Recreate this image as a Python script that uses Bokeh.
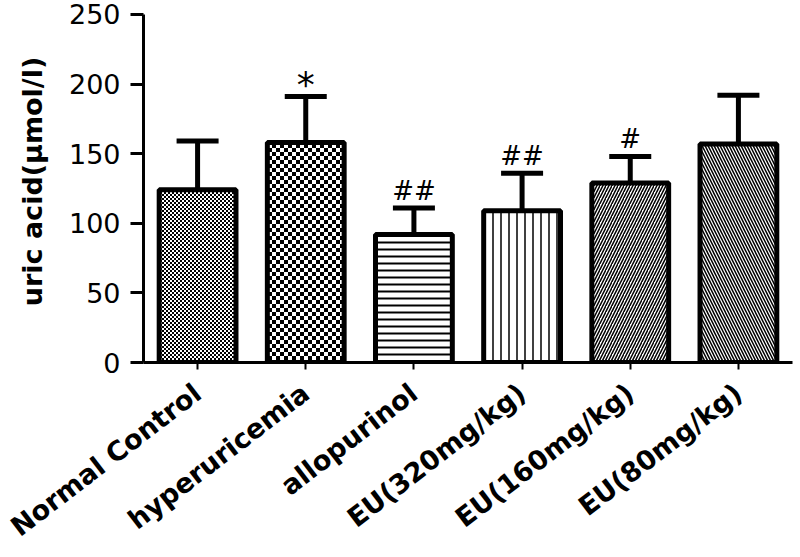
import zlib, struct, base64
from bokeh.plotting import figure
from bokeh.models import (ColumnDataSource, FactorRange, Range1d, FixedTicker,
                          Whisker, TeeHead, ImageURLTexture)
from bokeh.core.properties import value
from bokeh.embed import file_html
from bokeh.resources import INLINE

categories = ["Normal Control", "hyperuricemia", "allopurinol",
              "EU(320mg/kg)", "EU(160mg/kg)", "EU(80mg/kg)"]
means = [124, 158, 92, 109, 129, 157]
errors = [35, 33, 19, 27, 19, 35]
marks = ["", "*", "##", "##", "#", ""]
y_ticks = [0, 50, 100, 150, 200, 250]

# styles
patterns = ["fine_checker", "coarse_checker", "-", "|", "/", "\\"]
scales = [4, 9, 7, 8, 6, 6]
weights = [1, 1, 2, 1.5, 1.5, 1.5]
mark_size = {"": "26px", "*": "36px", "##": "26px", "#": "26px"}
mark_dy = {"": 0, "*": 8, "##": -2, "#": -2}


def checker_png(cell):
    n = cell * 2
    raw = b""
    for yy in range(n):
        row = bytearray([0])
        for xx in range(n):
            v = 0 if ((xx // cell) + (yy // cell)) % 2 == 0 else 255
            row += bytes([v, v, v])
        raw += bytes(row)

    def chunk(t, d):
        c = struct.pack(">I", len(d)) + t + d
        return c + struct.pack(">I", zlib.crc32(t + d) & 0xffffffff)

    png = (b"\x89PNG\r\n\x1a\n"
           + chunk(b"IHDR", struct.pack(">IIBBBBB", n, n, 8, 2, 0, 0, 0))
           + chunk(b"IDAT", zlib.compress(raw))
           + chunk(b"IEND", b""))
    return "data:image/png;base64," + base64.b64encode(png).decode()


def checker_svg(cell):
    n = cell * 2
    s = (f'<svg xmlns="http://www.w3.org/2000/svg" width="{n}" height="{n}">'
         f'<rect width="{n}" height="{n}" fill="white"/>'
         f'<rect width="{cell}" height="{cell}" fill="black"/>'
         f'<rect x="{cell}" y="{cell}" width="{cell}" height="{cell}" fill="black"/></svg>')
    return "data:image/svg+xml;base64," + base64.b64encode(s.encode()).decode()


upper = [m + e for m, e in zip(means, errors)]

src = ColumnDataSource(dict(cat=categories, top=means, upper=upper, mark=marks,
                            pat=patterns, sc=scales, wt=weights,
                            msize=[mark_size[m] for m in marks],
                            mdy=[mark_dy[m] for m in marks]))

extra = {"fine_checker": ImageURLTexture(url=checker_png(2)),
         "coarse_checker": ImageURLTexture(url=checker_svg(4))}

p = figure(x_range=FactorRange(*categories, range_padding=0),
           y_range=Range1d(0, 260),
           width=800, height=557, output_backend="svg", toolbar_location=None,
           min_border_left=143, min_border_right=8, min_border_top=0,
           min_border_bottom=193)
p.outline_line_color = None
p.xgrid.grid_line_color = None
p.ygrid.grid_line_color = None
p.background_fill_color = "white"
p.border_fill_color = "white"

p.vbar(x="cat", top="top", bottom=0, width=0.71, source=src,
       fill_color="white", line_color="black", line_width=5,
       hatch_pattern="pat", hatch_scale="sc", hatch_weight="wt",
       hatch_color="black", hatch_extra=extra)

w = Whisker(base="cat", upper="upper", lower="top", source=src,
            dimension="height", line_width=5, line_color="black",
            upper_head=TeeHead(size=42, line_width=5, line_color="black"),
            lower_head=None)
p.add_layout(w)

p.text(x="cat", y="upper", text="mark", source=src, text_align="center",
       text_baseline="bottom", y_offset="mdy", text_font=value("DejaVu Sans"),
       text_font_size="msize", text_color="black")

ya = p.yaxis[0]
ya.ticker = FixedTicker(ticks=y_ticks)
ya.bounds = (0, 250)
ya.axis_line_width = 3
ya.major_tick_line_width = 3
ya.major_tick_out = 13
ya.major_tick_in = 0
ya.minor_tick_line_color = None
ya.major_label_text_font = "DejaVu Sans"
ya.major_label_text_font_size = "27px"
ya.major_label_text_color = "black"
ya.major_label_standoff = 10
ya.axis_label = "uric acid(μmol/l)"
ya.axis_label_text_font = "DejaVu Sans"
ya.axis_label_text_font_style = "bold"
ya.axis_label_text_font_size = "27px"
ya.axis_label_text_color = "black"
ya.axis_label_standoff = 18

xa = p.xaxis[0]
xa.axis_line_width = 3
xa.major_tick_line_width = 2
xa.major_tick_out = 7
xa.major_tick_in = 0
xa.major_label_orientation = 0.654
xa.major_label_text_font = "DejaVu Sans"
xa.major_label_text_font_style = "bold"
xa.major_label_text_font_size = "27px"
xa.major_label_text_color = "black"
xa.major_label_standoff = 20

open("out.html", "w").write(file_html(p, INLINE))
